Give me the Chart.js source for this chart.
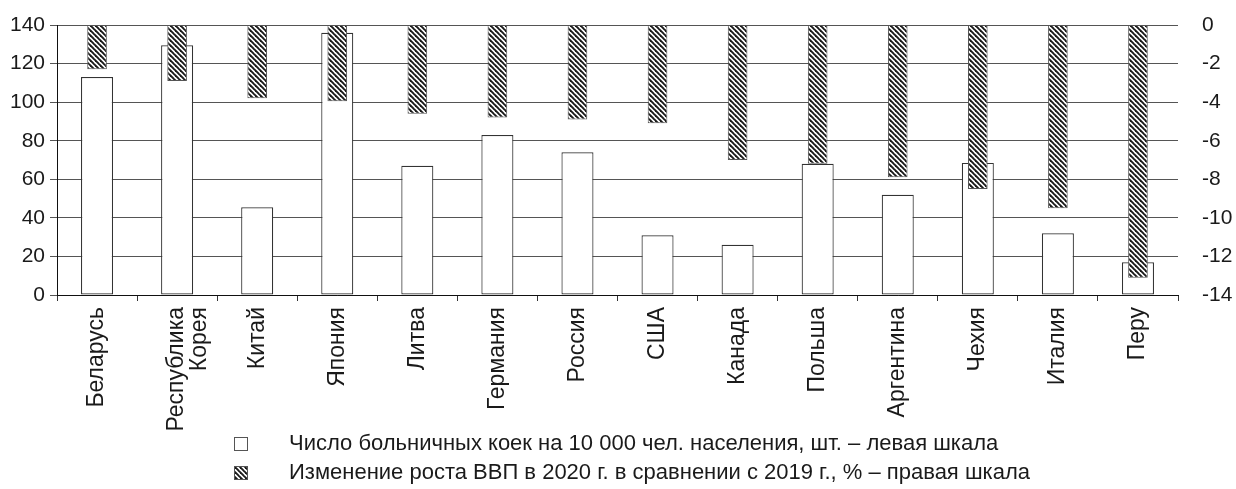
<!DOCTYPE html>
<html lang="ru">
<head>
<meta charset="utf-8">
<script src="https://cdn.jsdelivr.net/npm/chart.js@4"></script>
<style>
  body { margin: 0; background: #fff; font-family: "Liberation Sans", Arial, sans-serif; }
  #wrap { position: relative; width: 1236px; height: 489px; }
  #box { position: absolute; left: 0; top: 0; width: 1236px; height: 432px; }
  .leg { position: absolute; left: 234px; font-size: 22px; color: #1a1a1a; white-space: nowrap; }
  .leg .sw { position: absolute; left: 0; width: 12px; height: 12px; border: 1px solid #555; box-sizing: content-box; }
  .leg span.t { position: absolute; left: 55px; top: -13px; }
</style>
</head>
<body>
<div id="wrap">
  <div id="box"><canvas id="barChart"></canvas></div>
  <div class="leg" style="top:443px"><div class="sw" style="top:-6px;background:#fff"></div><span class="t">Число больничных коек на 10 000 чел. населения, шт. – левая шкала</span></div>
  <div class="leg" style="top:472px"><canvas class="sw" id="hatchSw" width="12" height="12" style="top:-6px"></canvas><span class="t">Изменение роста ВВП в 2020 г. в сравнении с 2019 г., % – правая шкала</span></div>
</div>
<script>
var countries = ['Беларусь', ['Республика', 'Корея'], 'Китай', 'Япония', 'Литва', 'Германия', 'Россия',
                 'США', 'Канада', 'Польша', 'Аргентина', 'Чехия', 'Италия', 'Перу'];
// left scale: beds per 10 000 people
var beds = [113, 129.5, 45.5, 136, 67, 83, 74, 31, 26, 68, 52, 68.5, 32, 17];
// right scale: change of GDP growth 2020 vs 2019, %
var gdp = [-2.3, -2.9, -3.8, -3.95, -4.6, -4.8, -4.9, -5.1, -7.0, -7.2, -7.9, -8.5, -9.5, -13.1];
var leftTicks = [0, 140, 20];
var rightTicks = [-14, 0, 2];

function makeHatch() {
    const pc = document.createElement('canvas');
    pc.width = 5; pc.height = 5;
    const g = pc.getContext('2d');
    g.fillStyle = '#fff';
    g.fillRect(0, 0, 5, 5);
    g.strokeStyle = '#1a1a1a';
    g.lineWidth = 1.9;
    for (let x = -5; x <= 5; x += 5) {
        g.beginPath();
        g.moveTo(x - 1, -1);
        g.lineTo(x + 6, 6);
        g.stroke();
    }
    return pc;
}
const hatchCanvas = makeHatch();

// legend swatch
const sw = document.getElementById('hatchSw').getContext('2d');
sw.fillStyle = sw.createPattern(hatchCanvas, 'repeat');
sw.fillRect(0, 0, 12, 12);

const ctx = document.getElementById('barChart').getContext('2d');
const hatch = ctx.createPattern(hatchCanvas, 'repeat');
const font = '"Liberation Sans", Arial';

new Chart(ctx, {
    type: 'bar',
    data: {
        labels: countries,
        datasets: [{
            label: 'Изменение роста ВВП',
            data: gdp,
            yAxisID: 'y1',
            backgroundColor: hatch,
            borderColor: '#555',
            borderWidth: 1,
            borderSkipped: false,
            grouped: false,
            barPercentage: 0.245,
            categoryPercentage: 1,
            order: 0
        }, {
            label: 'Число больничных коек',
            data: beds,
            yAxisID: 'y',
            backgroundColor: '#fff',
            borderColor: '#333',
            borderWidth: 1.2,
            borderSkipped: false,
            grouped: false,
            barPercentage: 0.4,
            categoryPercentage: 1,
            order: 1
        }]
    },
    options: {
        responsive: true,
        maintainAspectRatio: false,
        animation: false,
        layout: { padding: { top: 25, left: 0, right: 0, bottom: 0 } },
        plugins: { legend: { display: false }, tooltip: { enabled: false } },
        scales: {
            x: {
                offset: true,
                grid: { offset: true, drawOnChartArea: false, drawTicks: true, tickLength: 6, color: '#333' },
                border: { color: '#111', width: 1 },
                ticks: { maxRotation: 90, minRotation: 90, color: '#1a1a1a', padding: 6,
                         font: { family: font, size: 23, lineHeight: 1.0 } },
                afterFit: function (s) { s.height = 137; }
            },
            y: {
                position: 'left',
                min: leftTicks[0], max: leftTicks[1],
                ticks: { stepSize: leftTicks[2], color: '#1a1a1a', padding: 5,
                         font: { family: font, size: 21 } },
                grid: { color: '#555', lineWidth: 1, tickLength: 7 },
                border: { color: '#111', width: 1 },
                afterFit: function (s) { s.width = 57; }
            },
            y1: {
                position: 'right',
                min: rightTicks[0], max: rightTicks[1],
                ticks: { stepSize: rightTicks[2], color: '#1a1a1a', padding: 2,
                         font: { family: font, size: 21 } },
                grid: { display: false, drawTicks: true, tickLength: 22 },
                border: { display: false },
                afterFit: function (s) { s.width = 58; }
            }
        }
    }
});
</script>
</body>
</html>
